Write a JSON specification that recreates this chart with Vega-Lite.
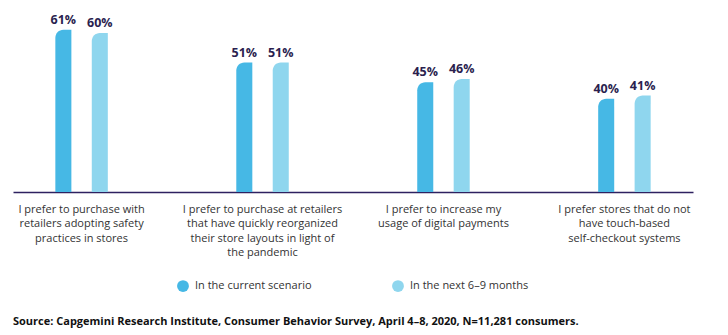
{
  "$schema": "https://vega.github.io/schema/vega-lite/v6.json",
  "width": 680,
  "height": 192,
  "autosize": {"type": "none"},
  "padding": {"left": 13, "top": 0, "right": 35, "bottom": 143},
  "background": "white",
  "config": {"view": {"stroke": null}, "font": "Open Sans"},
  "title": {
    "text": "Source: Capgemini Research Institute, Consumer Behavior Survey, April 4–8, 2020, N=11,281 consumers.",
    "orient": "bottom",
    "anchor": "start",
    "frame": "group",
    "fontSize": 11,
    "fontWeight": "bold",
    "color": "#111111",
    "baseline": "top",
    "offset": 24
  },
  "data": {
    "values": [
      {"category": "I prefer to purchase with|retailers adopting safety|practices in stores", "series": "In the current scenario", "value": 61},
      {"category": "I prefer to purchase with|retailers adopting safety|practices in stores", "series": "In the next 6–9 months", "value": 60},
      {"category": "I prefer to purchase at retailers|that have quickly reorganized|their store layouts in light of|the pandemic", "series": "In the current scenario", "value": 51},
      {"category": "I prefer to purchase at retailers|that have quickly reorganized|their store layouts in light of|the pandemic", "series": "In the next 6–9 months", "value": 51},
      {"category": "I prefer to increase my|usage of digital payments", "series": "In the current scenario", "value": 45},
      {"category": "I prefer to increase my|usage of digital payments", "series": "In the next 6–9 months", "value": 46},
      {"category": "I prefer stores that do not|have touch-based|self-checkout systems", "series": "In the current scenario", "value": 40},
      {"category": "I prefer stores that do not|have touch-based|self-checkout systems", "series": "In the next 6–9 months", "value": 41}
    ]
  },
  "encoding": {
    "x": {
      "field": "category",
      "type": "nominal",
      "sort": null,
      "scale": {"paddingInner": 0.71, "paddingOuter": 0.234},
      "axis": {
        "title": null,
        "labelAngle": 0,
        "ticks": false,
        "domainColor": "#2e2160",
        "domainWidth": 1.5,
        "labelExpr": "split(datum.label, '|')",
        "labelFontSize": 11,
        "labelColor": "#333333",
        "labelLineHeight": 14.5,
        "labelPadding": 11,
        "labelLimit": 0
      }
    },
    "xOffset": {"field": "series", "type": "nominal", "sort": null, "scale": {"paddingInner": 0.56}},
    "y": {
      "field": "value",
      "type": "quantitative",
      "scale": {"domain": [11.7, 70], "zero": false, "nice": false},
      "axis": null
    }
  },
  "layer": [
    {
      "mark": {"type": "bar", "cornerRadiusTopLeft": 9},
      "encoding": {
        "y2": {"datum": 11.7},
        "color": {
          "field": "series",
          "type": "nominal",
          "sort": null,
          "scale": {"range": ["#46b8e5", "#8fd6ee"]},
          "legend": {
            "title": null,
            "orient": "none",
            "legendX": 164,
            "legendY": 280,
            "direction": "horizontal",
            "symbolType": "circle",
            "symbolSize": 140,
            "symbolStrokeWidth": 0,
            "labelFontSize": 11,
            "labelColor": "#333333",
            "labelOffset": 6,
            "columnPadding": 80
          }
        }
      }
    },
    {
      "transform": [{"calculate": "datum.value + '%'", "as": "label"}],
      "mark": {"type": "text", "baseline": "alphabetic", "dy": -6, "fontSize": 12.5, "fontWeight": "bold", "color": "#2b1f4f"},
      "encoding": {"text": {"field": "label", "type": "nominal"}}
    }
  ]
}
